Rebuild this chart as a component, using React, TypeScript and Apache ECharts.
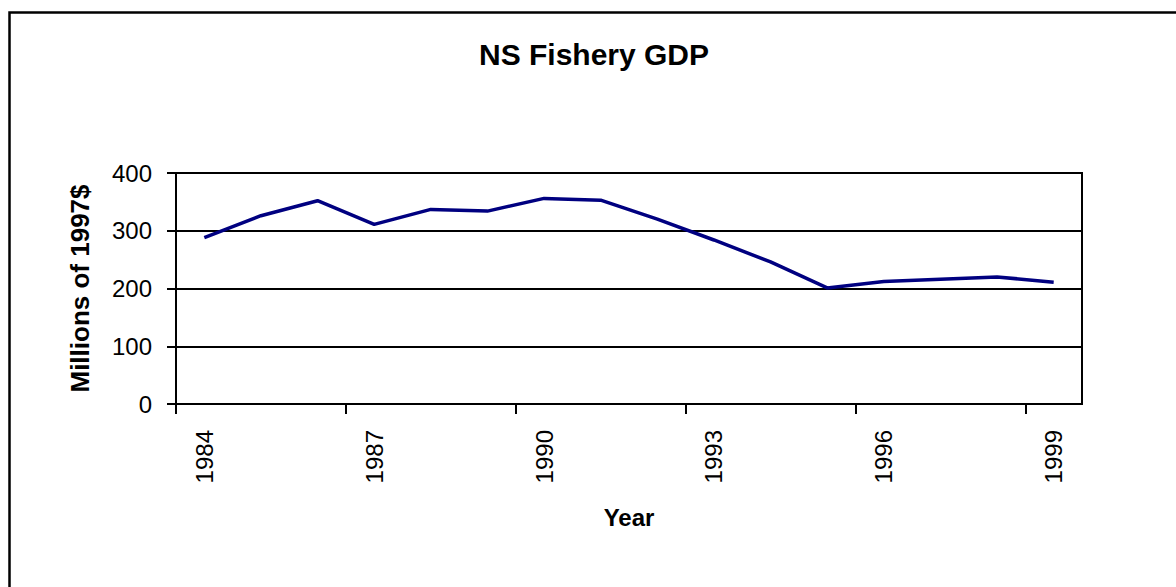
import React, { useEffect, useRef } from "react";
import * as echarts from "echarts";

const years = ["1984","1985","1986","1987","1988","1989","1990","1991","1992","1993","1994","1995","1996","1997","1998","1999"];
const gdp = [288, 326, 352, 311, 337, 334, 356, 353, 320, 284, 246, 201, 212, 216, 220, 211];
const yTicks = { min: 0, max: 400, interval: 100 };
const titleText = "NS Fishery GDP";
const yName = "Millions of 1997$";
const xName = "Year";
// band boundaries (one more than the categories) used to place the tick marks
const boundaries = Array.from({ length: years.length + 1 }, () => "");

const FONT = "'Liberation Sans', Arial, sans-serif";

export default function App() {
  const ref = useRef<HTMLDivElement>(null);
  useEffect(() => {
    const chart = echarts.init(ref.current!, null, { renderer: "svg" });
    chart.setOption({
      animation: false,
      backgroundColor: "#ffffff",
      title: {
        text: titleText,
        left: 589,
        top: 34,
        textAlign: "center",
        textStyle: { fontFamily: FONT, fontSize: 30, fontWeight: "bold", color: "#000" },
      },
      graphic: [
        {
          type: "rect",
          shape: { x: 9.5, y: 12.5, width: 1200, height: 600 },
          style: { fill: "none", stroke: "#000", lineWidth: 2.5 },
          silent: true,
        },
      ],
      grid: {
        left: 176,
        right: 94,
        top: 173,
        bottom: 183,
        containLabel: false,
        show: true,
        borderColor: "#000",
        borderWidth: 2,
        backgroundColor: "transparent",
      },
      xAxis: [
        {
          type: "category",
          data: years,
          boundaryGap: true,
          name: xName,
          nameLocation: "middle",
          nameGap: 101,
          nameTextStyle: { fontFamily: FONT, fontSize: 24, fontWeight: "bold", color: "#000" },
          axisLine: { show: true, lineStyle: { color: "#000", width: 2 } },
          axisTick: { show: false },
          axisLabel: {
            interval: 2,
            rotate: 90,
            margin: 26,
            fontFamily: FONT,
            fontSize: 24,
            color: "#000",
          },
          splitLine: { show: false },
        },
        {
          type: "category",
          data: boundaries,
          boundaryGap: false,
          position: "bottom",
          axisLine: { show: false },
          axisTick: { show: true, interval: 2, length: 10, lineStyle: { color: "#000", width: 2 } },
          axisLabel: { show: false },
          splitLine: { show: false },
        },
      ],
      yAxis: {
        type: "value",
        min: yTicks.min,
        max: yTicks.max,
        interval: yTicks.interval,
        name: yName,
        nameLocation: "middle",
        nameRotate: 90,
        nameGap: 83,
        nameTextStyle: { fontFamily: FONT, fontSize: 26, fontWeight: "bold", color: "#000" },
        axisLine: { show: true, lineStyle: { color: "#000", width: 2 } },
        axisTick: { show: true, length: 9, lineStyle: { color: "#000", width: 2 } },
        axisLabel: { margin: 24, fontFamily: FONT, fontSize: 24, color: "#000" },
        splitLine: { show: true, lineStyle: { color: "#000", width: 2 } },
      },
      series: [
        {
          type: "line",
          xAxisIndex: 0,
          data: gdp,
          symbol: "none",
          lineStyle: { color: "#000080", width: 3.5 },
          itemStyle: { color: "#000080" },
        },
      ],
    });
    return () => chart.dispose();
  }, []);
  return (
    <div
      ref={ref}
      style={{ position: "fixed", left: 0, top: 0, width: 1176, height: 587 }}
    />
  );
}
